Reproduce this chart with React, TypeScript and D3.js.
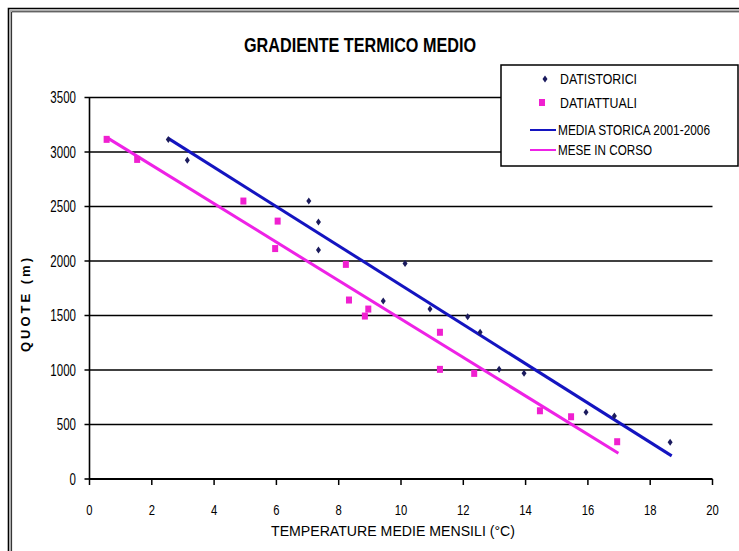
import React, { useEffect, useRef } from "react";
import * as d3 from "d3";

// Dati: temperatura media mensile (°C) e quota (m)
const storiciT = [2.53, 3.14, 7.04, 7.35, 7.35, 10.13, 9.43, 10.93, 12.14, 12.54, 13.15, 13.95, 15.94, 16.85, 18.64];
const storiciQ = [3115, 2925, 2550, 2357, 2100, 1978, 1632, 1559, 1489, 1346, 1006, 970, 612, 578, 337];

const attualiT = [0.55, 1.53, 4.94, 6.04, 5.96, 8.23, 8.33, 8.95, 8.84, 11.25, 11.25, 12.35, 14.46, 15.46, 16.94];
const attualiQ = [3116, 2932, 2550, 2366, 2114, 1969, 1642, 1559, 1495, 1346, 1006, 969, 626, 571, 342];

// linee di tendenza (estremi)
const mediaStoricaT = [2.53, 18.69];
const mediaStoricaQ = [3125, 212];
const meseInCorsoT = [0.55, 16.98];
const meseInCorsoQ = [3134, 236];

const xTicks = [0, 2, 4, 6, 8, 10, 12, 14, 16, 18, 20];
const yTicks = [0, 500, 1000, 1500, 2000, 2500, 3000, 3500];

const legendLabels = ["DATISTORICI", "DATIATTUALI", "MEDIA STORICA 2001-2006", "MESE IN CORSO"];

const FONT = "'Liberation Sans', Arial, sans-serif";
const BLUE_PT = "#1b1b5e";
const PINK_PT = "#f020d0";
const BLUE_LN = "#1414c0";
const PINK_LN = "#ee22e6";

export default function App() {
  const ref = useRef<SVGSVGElement>(null);

  useEffect(() => {
    const svg = d3.select(ref.current);
    svg.selectAll("*").remove();

    const left = 89.5;
    const right = 712.5;
    const top = 97.5;
    const bottom = 479;

    const x = d3.scaleLinear().domain([0, 20]).range([left, right]);
    const y = d3.scaleLinear().domain([0, 3500]).range([bottom, top]);

    svg.append("rect").attr("width", 739).attr("height", 551).attr("fill", "#fff");

    // cornice doppia
    svg.append("path").attr("d", "M8.5,560 V8.5 H760").attr("fill", "none").attr("stroke", "#000").attr("stroke-width", 1.6);
    svg.append("path").attr("d", "M10.3,560 V10.3 H760").attr("fill", "none").attr("stroke", "#999").attr("stroke-width", 1);
    svg.append("path").attr("d", "M11.6,560 V11.8 H760").attr("fill", "none").attr("stroke", "#222").attr("stroke-width", 1);

    // testo condensato
    const narrow = (tx: number, ty: number, s: string, size: number, anchor: string, sx = 0.75, weight = "normal") => {
      svg
        .append("g")
        .attr("transform", `translate(${tx},${ty}) scale(${sx},1)`)
        .append("text")
        .attr("text-anchor", anchor)
        .attr("dominant-baseline", "central")
        .attr("font-family", FONT)
        .attr("font-size", size)
        .attr("font-weight", weight)
        .attr("fill", "#000")
        .text(s);
    };

    // griglia orizzontale
    yTicks.filter((d) => d > 0).forEach((d) => {
      svg.append("line").attr("x1", left - 5).attr("x2", right).attr("y1", y(d)).attr("y2", y(d)).attr("stroke", "#000").attr("stroke-width", 1.6);
    });
    // asse y
    svg.append("line").attr("x1", left).attr("x2", left).attr("y1", top).attr("y2", bottom).attr("stroke", "#000").attr("stroke-width", 1.6);
    svg.append("line").attr("x1", left - 5).attr("x2", left).attr("y1", bottom).attr("y2", bottom).attr("stroke", "#000").attr("stroke-width", 1.6);
    // asse x
    svg.append("line").attr("x1", left).attr("x2", right).attr("y1", bottom).attr("y2", bottom).attr("stroke", "#000").attr("stroke-width", 2);
    xTicks.forEach((d) => {
      svg.append("line").attr("x1", x(d)).attr("x2", x(d)).attr("y1", bottom).attr("y2", bottom + 6).attr("stroke", "#000").attr("stroke-width", 1.5);
      narrow(x(d), 510, String(d), 15, "middle");
    });
    yTicks.forEach((d) => narrow(76, y(d), String(d), 16, "end", 0.72));

    // linee di tendenza
    const line = d3
      .line<number>()
      .x((d) => x(d));
    const drawTrend = (ts: number[], qs: number[], color: string) => {
      svg
        .append("path")
        .attr("d", line.y((_, i) => y(qs[i]))(ts))
        .attr("fill", "none")
        .attr("stroke", color)
        .attr("stroke-width", 3);
    };
    drawTrend(mediaStoricaT, mediaStoricaQ, BLUE_LN);
    drawTrend(meseInCorsoT, meseInCorsoQ, PINK_LN);

    // punti
    const diamond = (cx: number, cy: number) =>
      `M${cx},${cy - 3.5} L${cx + 2.5},${cy} L${cx},${cy + 3.5} L${cx - 2.5},${cy} Z`;
    storiciT.forEach((t, i) => {
      svg.append("path").attr("d", diamond(x(t), y(storiciQ[i]))).attr("fill", BLUE_PT);
    });
    attualiT.forEach((t, i) => {
      svg
        .append("rect")
        .attr("x", x(t) - 3)
        .attr("y", y(attualiQ[i]) - 3.5)
        .attr("width", 6)
        .attr("height", 7)
        .attr("fill", PINK_PT);
    });

    // titolo
    svg
      .append("text")
      .attr("x", 360)
      .attr("y", 45)
      .attr("text-anchor", "middle")
      .attr("dominant-baseline", "central")
      .attr("font-family", FONT)
      .attr("font-size", 20)
      .attr("font-weight", "bold")
      .attr("textLength", 232)
      .attr("lengthAdjust", "spacingAndGlyphs")
      .text("GRADIENTE TERMICO MEDIO");

    // titoli assi
    svg
      .append("text")
      .attr("x", 393)
      .attr("y", 530)
      .attr("text-anchor", "middle")
      .attr("dominant-baseline", "central")
      .attr("font-family", FONT)
      .attr("font-size", 15)
      .attr("textLength", 244)
      .attr("lengthAdjust", "spacingAndGlyphs")
      .text("TEMPERATURE MEDIE MENSILI (°C)");
    svg
      .append("text")
      .attr("transform", "translate(25,305) rotate(-90)")
      .attr("text-anchor", "middle")
      .attr("dominant-baseline", "central")
      .attr("font-family", FONT)
      .attr("font-size", 13)
      .attr("font-weight", "bold")
      .attr("textLength", 94)
      .attr("lengthAdjust", "spacing")
      .text("QUOTE (m)");

    // legenda
    svg.append("rect").attr("x", 501).attr("y", 65).attr("width", 237).attr("height", 101).attr("fill", "#fff").attr("stroke", "#000").attr("stroke-width", 1.5);
    const legY = [79, 102.5, 130, 150];
    svg.append("path").attr("d", diamond(545, legY[0])).attr("fill", BLUE_PT);
    svg.append("rect").attr("x", 539).attr("y", legY[1] - 3.5).attr("width", 6).attr("height", 7).attr("fill", PINK_PT);
    svg.append("line").attr("x1", 530).attr("x2", 556).attr("y1", legY[2]).attr("y2", legY[2]).attr("stroke", BLUE_LN).attr("stroke-width", 2);
    svg.append("line").attr("x1", 530).attr("x2", 556).attr("y1", legY[3]).attr("y2", legY[3]).attr("stroke", PINK_LN).attr("stroke-width", 2);
    const legW = [77, 77, 152, 94];
    legendLabels.forEach((s, i) => {
      svg
        .append("text")
        .attr("x", i < 2 ? 560 : 558)
        .attr("y", legY[i])
        .attr("dominant-baseline", "central")
        .attr("font-family", FONT)
        .attr("font-size", 14)
        .attr("textLength", legW[i])
        .attr("lengthAdjust", "spacingAndGlyphs")
        .text(s);
    });
  }, []);

  return (
    <svg
      ref={ref}
      width={739}
      height={551}
      style={{ position: "absolute", left: 0, top: 0, background: "#fff" }}
    />
  );
}
